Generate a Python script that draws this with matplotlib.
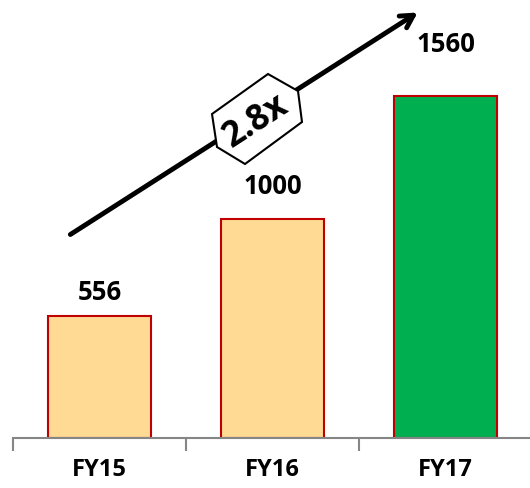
import numpy as np
import matplotlib.pyplot as plt
from matplotlib.patches import Polygon

# data
years = ['FY15', 'FY16', 'FY17']
revenue = [556, 1000, 1560]
bar_colors = ['#FFDA95', '#FFDA95', '#00B050']
growth_label = '2.8x'

plt.rcParams['font.family'] = ['Open Sans', 'DejaVu Sans']

fig = plt.figure(figsize=(5.30, 4.89), dpi=100)
ax = fig.add_axes([13/530, 50/489, 519/530, 439/489])

x = np.arange(len(years))
ax.bar(x, revenue, width=0.59, color=bar_colors, edgecolor='#C00000', linewidth=1.5, zorder=2)

ax.set_xlim(-0.5, 2.5)
ax.set_ylim(0, 2005)

# value labels
offsets = [111, 151, 244]
for xi, v, off in zip(x, revenue, offsets):
    ax.text(xi, v + off, str(v), ha='center', va='center', fontsize=18.5, fontweight='bold')

# axis styling
for s in ['left', 'right', 'top']:
    ax.spines[s].set_visible(False)
ax.spines['bottom'].set_color('#868686')
ax.spines['bottom'].set_linewidth(1.5)
ax.set_yticks([])
ax.set_xticks(x)
ax.set_xticklabels(years, fontsize=17, fontweight='bold')
ax.tick_params(axis='x', which='major', length=0, pad=14)
ax.set_xticks([-0.5, 0.5, 1.5], minor=True)
ax.tick_params(axis='x', which='minor', length=9, width=1.5, color='#868686')

# growth arrow (figure pixels, y measured from bottom)
H = 489
ax.annotate('', xy=(420, H - 12), xytext=(68, H - 237), xycoords='figure pixels',
            textcoords='figure pixels',
            arrowprops=dict(arrowstyle='->,head_length=0.9,head_width=0.5', lw=3.5, color='black'))

hexagon = [(268, 75), (298, 92), (302, 123), (245, 165), (217, 148), (212, 115)]
hexagon = [(px, H - py) for px, py in hexagon]
fig.patches.append(Polygon(hexagon, closed=True, facecolor='white', edgecolor='black',
                           linewidth=1.5, transform=None, zorder=5))
fig.text(256/530, (H - 121)/H, growth_label, ha='center', va='center', rotation=33,
         fontsize=25, fontweight='bold', zorder=6)

fig.savefig('out.png', dpi=100)
